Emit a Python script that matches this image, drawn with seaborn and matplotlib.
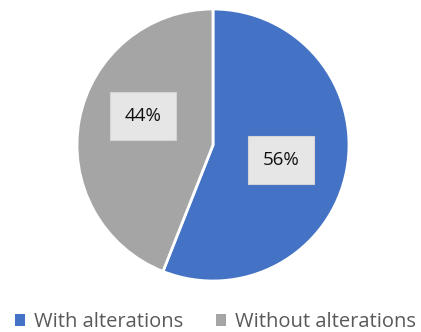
import matplotlib
matplotlib.use("Agg")
import matplotlib.pyplot as plt
import seaborn as sns
from matplotlib.patches import Patch

sns.set_theme(style="white")
plt.rcParams['font.family'] = ['Open Sans', 'DejaVu Sans']

categories = ["With alterations", "Without alterations"]
shares = [56, 44]
colors = ["#4472C4", "#A5A5A5"]

W, H = 421, 332
fig = plt.figure(figsize=(W / 100, H / 100), dpi=100)
ax = fig.add_axes([0.0, 0.0, 1.0, 1.0])

# pie drawn in pixel-like coordinates (y measured upward from the bottom)
wedges, texts = ax.pie(
    shares, colors=colors, startangle=90, counterclock=False,
    center=(213, H - 145), radius=136,
    wedgeprops=dict(edgecolor="white", linewidth=2),
)
ax.set_aspect("equal")
ax.set_xlim(0, W)
ax.set_ylim(0, H)
ax.axis("off")

label_pos = [(281, H - 160), (143, H - 116)]
for v, (x, y) in zip(shares, label_pos):
    ax.text(x, y, f"{v}%", ha="center", va="center", fontsize=13.5, color="#111111",
            bbox=dict(boxstyle="square,pad=0.8", facecolor="#E7E6E6",
                      edgecolor="#D4D4D4", linewidth=0.8))

handles = [Patch(facecolor=c, edgecolor="none") for c in colors]
fig.legend(handles, categories, loc="center", bbox_to_anchor=(0.512, 0.03), ncol=2,
           frameon=False, fontsize=14.5, labelcolor="#595959", handlelength=0.5,
           handleheight=0.5, handletextpad=0.45, columnspacing=1.6)

fig.savefig("out.png", dpi=100)
